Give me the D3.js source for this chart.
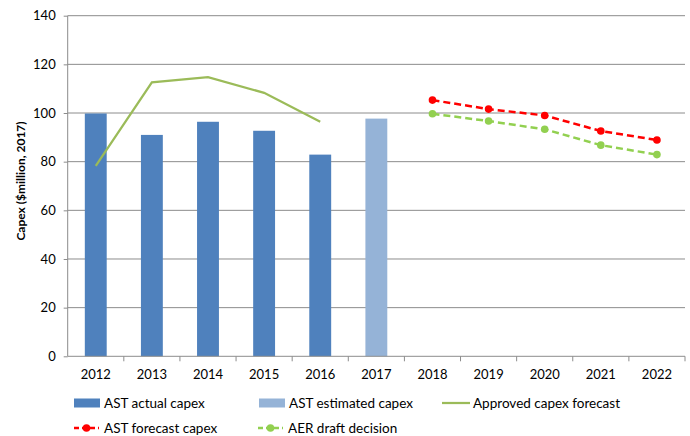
<!DOCTYPE html>
<html>
<head>
<script src="https://d3js.org/d3.v7.min.js" charset="utf-8"></script>
<style>
  body { margin: 0; background: #fff; }
  text { font-family: Lato, "Open Sans", sans-serif; fill: #000; }
</style>
</head>
<body>
<div id="chart"></div>
<script>
  var w = 690, h = 436;
  var margin = { top: 15.7, right: 5, bottom: 79.7, left: 67.7 };

  var years = ["2012","2013","2014","2015","2016","2017","2018","2019","2020","2021","2022"];
  var actualYears = ["2012","2013","2014","2015","2016"];
  var actualCapex = [99.8, 91, 96.4, 92.7, 82.9];
  var estimatedYears = ["2017"];
  var estimatedCapex = [97.7];
  var approvedCapex = [78.3, 112.6, 114.7, 108.3, 96.4];
  var forecastYears = ["2018","2019","2020","2021","2022"];
  var astForecast = [105.3, 101.6, 99.0, 92.6, 88.9];
  var aerDraft = [99.7, 96.7, 93.3, 86.8, 82.9];
  var yTicks = [0, 20, 40, 60, 80, 100, 120, 140];

  var iw = w - margin.left - margin.right, ih = h - margin.top - margin.bottom;

  var svg = d3.select("#chart").append("svg").attr("width", w).attr("height", h);
  var g = svg.append("g").attr("transform", "translate(" + margin.left + "," + margin.top + ")");

  var x = d3.scaleBand().domain(years).range([0, iw]);
  var y = d3.scaleLinear().domain([0, 140]).range([ih, 0]);
  var cx = function(yr) { return x(yr) + x.bandwidth() / 2; };
  var barW = x.bandwidth() * 0.39;

  // gridlines
  g.selectAll("line.grid").data(yTicks.slice(1)).enter().append("line")
    .attr("x1", 0).attr("x2", iw)
    .attr("y1", d => y(d)).attr("y2", d => y(d))
    .attr("stroke", "#8c8c8c").attr("stroke-width", 1);

  // bars
  g.selectAll("rect.actual").data(actualYears).enter().append("rect")
    .attr("x", d => cx(d) - barW / 2).attr("width", barW)
    .attr("y", (d, i) => y(actualCapex[i])).attr("height", (d, i) => ih - y(actualCapex[i]))
    .attr("fill", "#4F81BD");
  g.selectAll("rect.est").data(estimatedYears).enter().append("rect")
    .attr("x", d => cx(d) - barW / 2).attr("width", barW)
    .attr("y", (d, i) => y(estimatedCapex[i])).attr("height", (d, i) => ih - y(estimatedCapex[i]))
    .attr("fill", "#95B3D7");

  // axes
  var yAxis = g.append("g").call(d3.axisLeft(y).tickValues(yTicks).tickSize(4).tickPadding(8));
  yAxis.select(".domain").attr("stroke", "#8c8c8c").attr("d", "M0," + ih + "V0");
  yAxis.selectAll(".tick line").attr("stroke", "#8c8c8c");
  yAxis.selectAll("text").attr("font-size", "13px");

  var xAxis = g.append("g").attr("transform", "translate(0," + ih + ")")
    .call(d3.axisBottom(x).tickSize(0).tickPadding(13));
  xAxis.select(".domain").attr("stroke", "#8c8c8c").attr("d", "M0,0H" + iw);
  xAxis.selectAll("text").attr("font-size", "13px");
  g.selectAll("line.xtick").data(years.slice(1).concat(["end"])).enter().append("line")
    .attr("x1", d => d === "end" ? iw : x(d)).attr("x2", d => d === "end" ? iw : x(d))
    .attr("y1", ih).attr("y2", ih + 5).attr("stroke", "#8c8c8c");

  // approved line
  var line = d3.line().x(d => cx(d[0])).y(d => y(d[1]));
  g.append("path").datum(actualYears.map((d, i) => [d, approvedCapex[i]]))
    .attr("d", line).attr("fill", "none").attr("stroke", "#9BBB59").attr("stroke-width", 2.25);

  function dashed(vals, color) {
    var pts = forecastYears.map((d, i) => [d, vals[i]]);
    g.append("path").datum(pts).attr("d", line).attr("fill", "none")
      .attr("stroke", color).attr("stroke-width", 2.5).attr("stroke-dasharray", "7,4");
    g.selectAll(null).data(pts).enter().append("circle")
      .attr("cx", d => cx(d[0])).attr("cy", d => y(d[1])).attr("r", 3.8).attr("fill", color);
  }
  dashed(aerDraft, "#92D050");
  dashed(astForecast, "#FF0000");

  // y title
  svg.append("text").attr("transform", "translate(25,181) rotate(-90)")
    .attr("text-anchor", "middle").attr("font-size", "12px").attr("font-weight", "bold")
    .text("Capex ($million, 2017)");

  // legend
  var legend = [
    { label: "AST actual capex", type: "rect", color: "#4F81BD", x: 74, y: 403 },
    { label: "AST estimated capex", type: "rect", color: "#95B3D7", x: 259, y: 403 },
    { label: "Approved capex forecast", type: "line", color: "#9BBB59", x: 442, y: 403 },
    { label: "AST forecast capex", type: "dash", color: "#FF0000", x: 74, y: 428 },
    { label: "AER draft decision", type: "dash", color: "#92D050", x: 258, y: 428 }
  ];
  var lg = svg.selectAll("g.leg").data(legend).enter().append("g")
    .attr("transform", d => "translate(" + d.x + "," + d.y + ")");
  lg.each(function(d) {
    var s = d3.select(this);
    if (d.type === "rect") {
      s.append("rect").attr("x", 0).attr("y", -4.5).attr("width", 26).attr("height", 9).attr("fill", d.color);
      s.append("text").attr("x", 30).attr("dy", "0.35em").attr("font-size", "13.5px").text(d.label);
    } else if (d.type === "line") {
      s.append("line").attr("x1", 0).attr("x2", 28).attr("stroke", d.color).attr("stroke-width", 2.25);
      s.append("text").attr("x", 31).attr("dy", "0.35em").attr("font-size", "13.5px").text(d.label);
    } else {
      s.append("line").attr("x1", 0).attr("x2", 25).attr("stroke", d.color).attr("stroke-width", 2.5)
        .attr("stroke-dasharray", "5,3");
      s.append("circle").attr("cx", 12.5).attr("r", 3.8).attr("fill", d.color);
      s.append("text").attr("x", 30).attr("dy", "0.35em").attr("font-size", "13.5px").text(d.label);
    }
  });
</script>
</body>
</html>
